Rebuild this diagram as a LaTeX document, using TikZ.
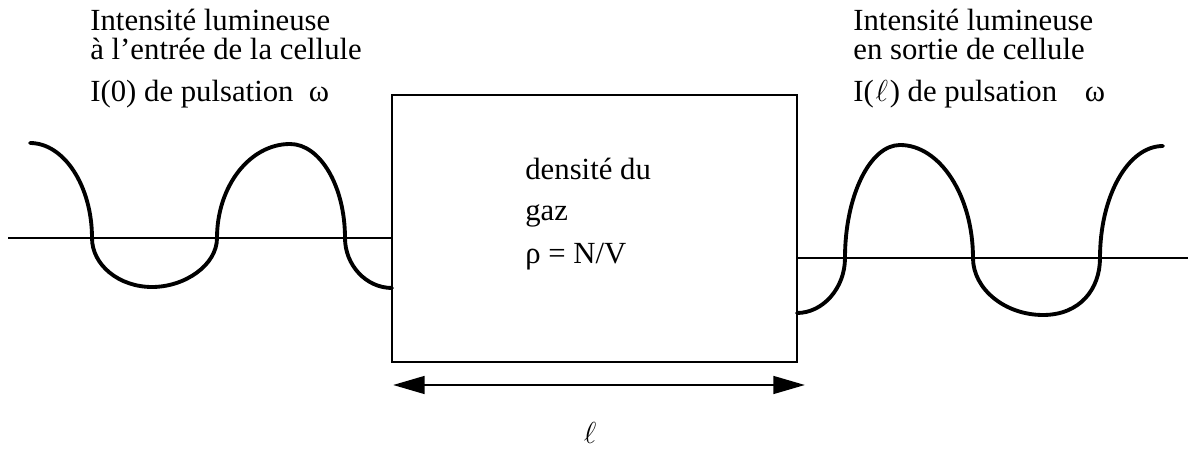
\documentclass[tikz,border=0pt]{standalone}
\usepackage{fontspec}
\setmainfont{Liberation Serif}
\usetikzlibrary{arrows.meta}

\tikzset{
  txt/.style={inner sep=0pt, anchor=base west, font=\fontsize{17.5}{16.5}\selectfont},
  head/.style={txt, anchor=south west, align=left},
  wave/.style={line width=2.2pt, line cap=round},
  axe/.style={line width=1.6pt},
}

\begin{document}
\begin{tikzpicture}[x=0.02cm, y=-0.02cm]
\useasboundingbox (0,0) rectangle (1188,452);
% the cell
\node (cell) [draw, axe, inner sep=0pt, minimum width=8.1cm, minimum height=5.34cm] at (594.5,228.5) {};
\draw (525,180) node[txt] (dens1) {densité du};
\draw (525,221) node[txt] (dens2) {gaz};
\draw (525,264) node[txt] (dens3) {ρ = N/V};
% axes of the waves
\coordinate (axL) at (8,238);
\coordinate (axR) at (1188,258);
\draw[axe] (axL) -- (axL -| cell.west);
\draw[axe] (cell.east |- axR) -- (axR);
% incoming wave
\draw[wave] (30,143) .. controls (64,143) and (92,186) .. (92,238)
  .. controls (92,265) and (119,287) .. (152,287)
  .. controls (185,287) and (217,265) .. (217,238)
  .. controls (217,186) and (250,144) .. (290,144)
  .. controls (320,144) and (345,186) .. (345,238)
  .. controls (345,265) and (366,288) .. (392,288);
% outgoing wave
\draw[wave] (797,313) .. controls (823,313) and (845,288) .. (845,258)
  .. controls (845,196) and (870,145) .. (900,145)
  .. controls (940,145) and (973,196) .. (973,258)
  .. controls (973,289) and (1005,315) .. (1043,315)
  .. controls (1080,315) and (1100,289) .. (1100,258)
  .. controls (1100,196) and (1128,146) .. (1163,146);
% length of the cell
\coordinate (arrL) at (393,385);
\coordinate (arrR) at (805,385);
\draw[axe, {Triangle[length=18pt,width=10pt]}-{Triangle[length=18pt,width=10pt]}] (arrL) -- (arrR);
\draw (590,444) node[txt, anchor=base] (len) {$\ell$};
% labels
\draw (90,60) node[head] (inL) {Intensité lumineuse\\à l'entrée de la cellule};
\draw (90,102) node[txt] (inL3) {I(0) de pulsation\hspace{0.5em}ω};
\draw (853,60) node[head] (outR) {Intensité lumineuse\\en sortie de cellule};
\draw (853,102) node[txt] (outR3) {I(\kern1pt$\ell$\kern1pt) de pulsation\hspace{0.9em}ω};
\end{tikzpicture}
\end{document}
